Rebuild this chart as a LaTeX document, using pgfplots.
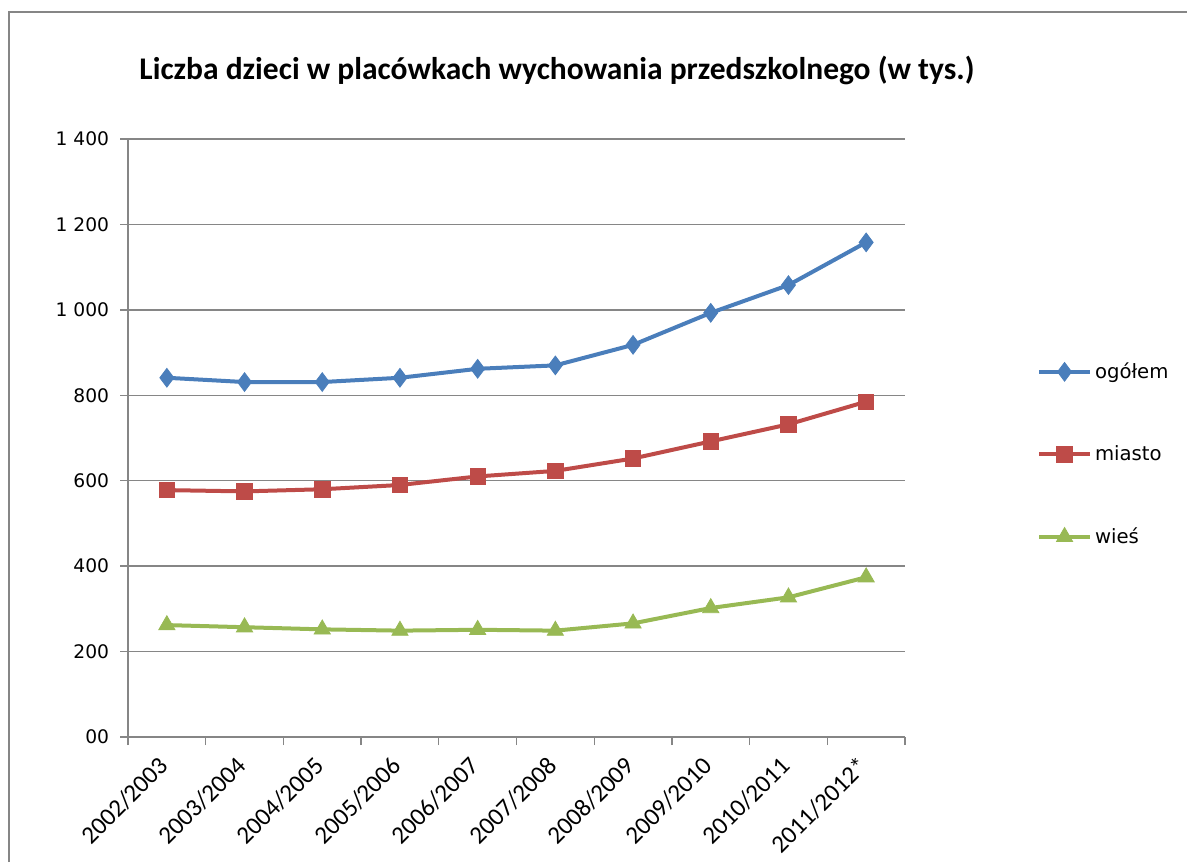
\documentclass[border=0pt]{standalone}
\usepackage{fontspec}
\usepackage{pgfplots}
\pgfplotsset{compat=1.18}
\setmainfont{Carlito}
\newfontfamily\vfont{DejaVu Sans}
\definecolor{cblue}{HTML}{4A7EBB}
\definecolor{cred}{HTML}{BE4B48}
\definecolor{cgreen}{HTML}{98B954}
\definecolor{cgrid}{HTML}{868686}
\begin{document}
\begin{tikzpicture}
\path[use as bounding box] (0,0) rectangle (712.2pt,517.2pt);
\draw[color=cgrid, line width=1.3pt] (5.4pt,0) -- (5.4pt,510pt) -- (712.2pt,510pt);
\node[font=\fontsize{18.9}{21}\selectfont\bfseries] at (334.2pt,475.2pt) {Liczba dzieci w placówkach wychowania przedszkolnego (w tys.)};
\begin{axis}[
  at={(76.8pt,75pt)}, anchor=south west,
  scale only axis, width=466.2pt, height=358.8pt,
  xmin=-0.5, xmax=9.5, ymin=0, ymax=1400,
  axis x line*=bottom, axis y line*=left,
  axis line style={color=cgrid, line width=0.8pt},
  xtick={-0.5,0.5,...,9.5},
  x tick label as interval,
  xticklabels={2002/2003,2003/2004,2004/2005,2005/2006,2006/2007,2007/2008,2008/2009,2009/2010,2010/2011,2011/2012*},
  xticklabel style={font=\fontsize{15}{17}\selectfont, rotate=45, anchor=north east, inner sep=1pt, xshift=-7pt, yshift=1pt},
  ytick={0,200,...,1400},
  yticklabels={00,200,400,600,800,1 000,1 200,1 400},
  yticklabel style={font=\vfont\fontsize{11.2}{13}\selectfont, xshift=-3pt},
  tick align=outside, tick style={color=cgrid, line width=0.8pt},
  major tick length=4.8pt,
  ymajorgrids, grid style={color=cgrid, line width=0.8pt},
  legend style={at={(1.17,0.632)}, anchor=north west, draw=none, fill=none,
    font=\vfont\fontsize{11.8}{13}\selectfont, row sep=34.8pt, inner sep=0pt},
  legend cell align=left,
  legend image code/.code={\draw[#1] (0cm,0cm) -- (1.06cm,0cm); \draw[#1, mark repeat=2, mark phase=2] plot coordinates {(0cm,0cm) (0.53cm,0cm) (1.06cm,0cm)};},
  clip=false,
]
\addplot[color=cblue, line width=2.4pt, mark=diamond*, mark size=5.6pt, mark options={fill=cblue, line width=0.5pt}]
  coordinates {(0,841) (1,831) (2,831) (3,841) (4,862) (5,870) (6,918) (7,993) (8,1058) (9,1158)};
\addlegendentry{ogółem}
\addplot[color=cred, line width=2.4pt, mark=square*, mark size=4.6pt, mark options={fill=cred, line width=0.5pt}]
  coordinates {(0,578) (1,575) (2,580) (3,590) (4,610) (5,623) (6,652) (7,692) (8,732) (9,785)};
\addlegendentry{miasto}
\addplot[color=cgreen, line width=2.4pt, mark=triangle*, mark size=5.6pt, mark options={fill=cgreen, line width=0.5pt}]
  coordinates {(0,262) (1,257) (2,252) (3,249) (4,251) (5,249) (6,266) (7,302) (8,327) (9,374)};
\addlegendentry{wieś}
\end{axis}
\end{tikzpicture}
\end{document}
